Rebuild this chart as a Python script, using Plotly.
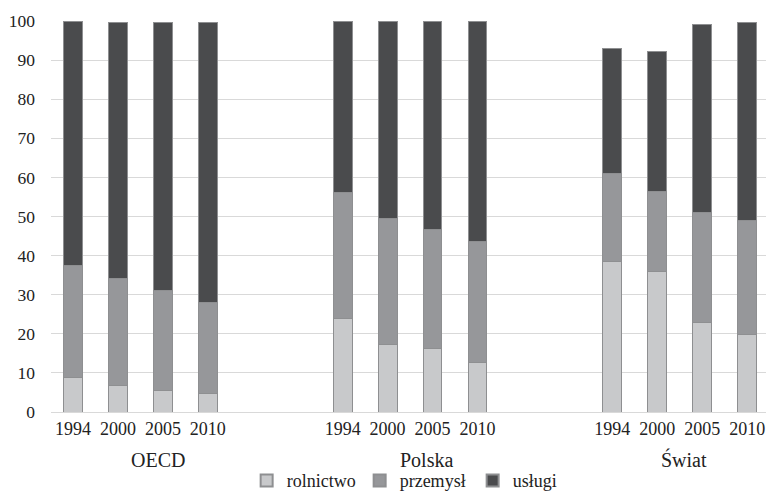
import plotly.graph_objects as go

groups = ["OECD", "Polska", "Świat"]
years = ["1994", "2000", "2005", "2010"]
series_names = ["rolnictwo", "przemysł", "usługi"]

rolnictwo = [8.7, 6.8, 5.5, 4.8,   23.8, 17.3, 16.3, 12.6,   38.5, 35.9, 22.9, 19.7]
przemysl  = [28.7, 27.4, 25.6, 23.2,  32.4, 32.1, 30.3, 30.9,  22.4, 20.4, 28.1, 29.2]
uslugi    = [62.4, 65.5, 68.6, 71.5,  43.7, 50.6, 53.4, 56.5,  32.0, 35.8, 48.1, 50.7]

colors = ["#c8c9cb", "#96979a", "#4a4b4d"]
edge = "#8e8f91"
FONT = "Liberation Serif"
TXT = "#222222"

# category slots: 4 years + 2 empty slots per group
slot = []
labels = []
for gi, g in enumerate(groups):
    for yj, y in enumerate(years):
        slot.append(gi * 6 + yj)
        labels.append(y)

fig = go.Figure()
for name, vals, col in zip(series_names, [rolnictwo, przemysl, uslugi], colors):
    fig.add_trace(go.Bar(
        x=slot, y=vals, name=name, width=0.42,
        marker=dict(color=col, line=dict(color=edge, width=1)),
        showlegend=False,
    ))
    fig.add_trace(go.Scatter(
        x=[None], y=[None], mode="markers", name=name,
        marker=dict(symbol="square", size=8, color=col, line=dict(color=edge, width=1)),
    ))

plot_top, plot_bottom = 21, 412
group_label_x = [1.88, 7.87, 13.6]
for g, gx in zip(groups, group_label_x):
    fig.add_annotation(x=gx, xref="x",
                       y=-(460 - plot_bottom) / (plot_bottom - plot_top), yref="paper",
                       text=g, showarrow=False, yanchor="middle",
                       font=dict(family=FONT, size=20, color=TXT))

fig.update_layout(
    width=766, height=491,
    margin=dict(l=51, r=0, t=plot_top, b=491 - plot_bottom, autoexpand=False),
    barmode="stack",
    plot_bgcolor="white", paper_bgcolor="white",
    font=dict(family=FONT, size=17, color=TXT),
    legend=dict(orientation="h", xref="container", yref="container",
                traceorder="normal",
                x=0.322, xanchor="left", y=0.021, yanchor="middle",
                font=dict(family=FONT, size=18, color=TXT),
                entrywidth=68, entrywidthmode="pixels",
                itemsizing="constant", tracegroupgap=0),
    xaxis=dict(range=[-0.49, 15.42], tickvals=slot, ticktext=labels,
               showgrid=False, zeroline=False, showline=True, automargin=False,
               linecolor="#d9d9d9", linewidth=1, ticks="",
               tickfont=dict(family=FONT, size=18, color=TXT)),
    yaxis=dict(range=[0, 100], tick0=0, dtick=10, showgrid=True, automargin=False,
               gridcolor="#d9d9d9", gridwidth=1, zeroline=False,
               showline=False, ticks="", ticklabelstandoff=15,
               tickfont=dict(family=FONT, size=17.5, color=TXT)),
)

fig.write_html("out.html", config={"displayModeBar": False},
               post_script="document.body.style.margin='0';document.body.style.padding='0';")
